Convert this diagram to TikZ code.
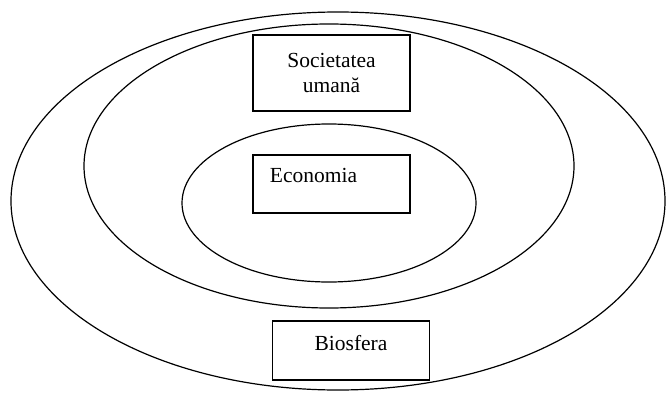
\documentclass[tikz,border=0pt]{standalone}
\usepackage{fontspec}
\setmainfont{Liberation Serif}
\usetikzlibrary{positioning}
\tikzset{
    ring/.style={line width=1.2pt},
    box/.style={draw,line width=1.3pt,fill=white,minimum width=157pt,inner sep=0pt},
    lbl/.style={inner sep=0pt,font=\fontsize{21.5}{25}\selectfont},
}
\begin{document}
\begin{tikzpicture}[x=1pt,y=-1pt]
            \useasboundingbox (0,0) rectangle (666,393);
            % the three rings
            \coordinate (outerc) at (338,201);
            \coordinate (midc) at (329,166);
            \coordinate (innerc) at (329,203);
            \draw[ring] (outerc) ellipse [x radius=327, y radius=189];
            \draw[ring] (midc) ellipse [x radius=245, y radius=142];
            \draw[ring] (innerc) ellipse [x radius=147, y radius=79];
            % boxes
            \node[box,minimum height=76pt,align=center,lbl] (soc) at (331.5,73)
                {Societatea\\umană};
            \node[box,minimum height=58pt] (econ) at (331.5,184) {};
            \node[lbl] (econtxt) at ([xshift=-18pt,yshift=9pt]econ.center) {Economia};
            \node[box,minimum height=59pt] (bio) at (351,350.5) {};
            \node[lbl] (biotxt) at ([yshift=7pt]bio.center) {Biosfera};
        \end{tikzpicture}
\end{document}
